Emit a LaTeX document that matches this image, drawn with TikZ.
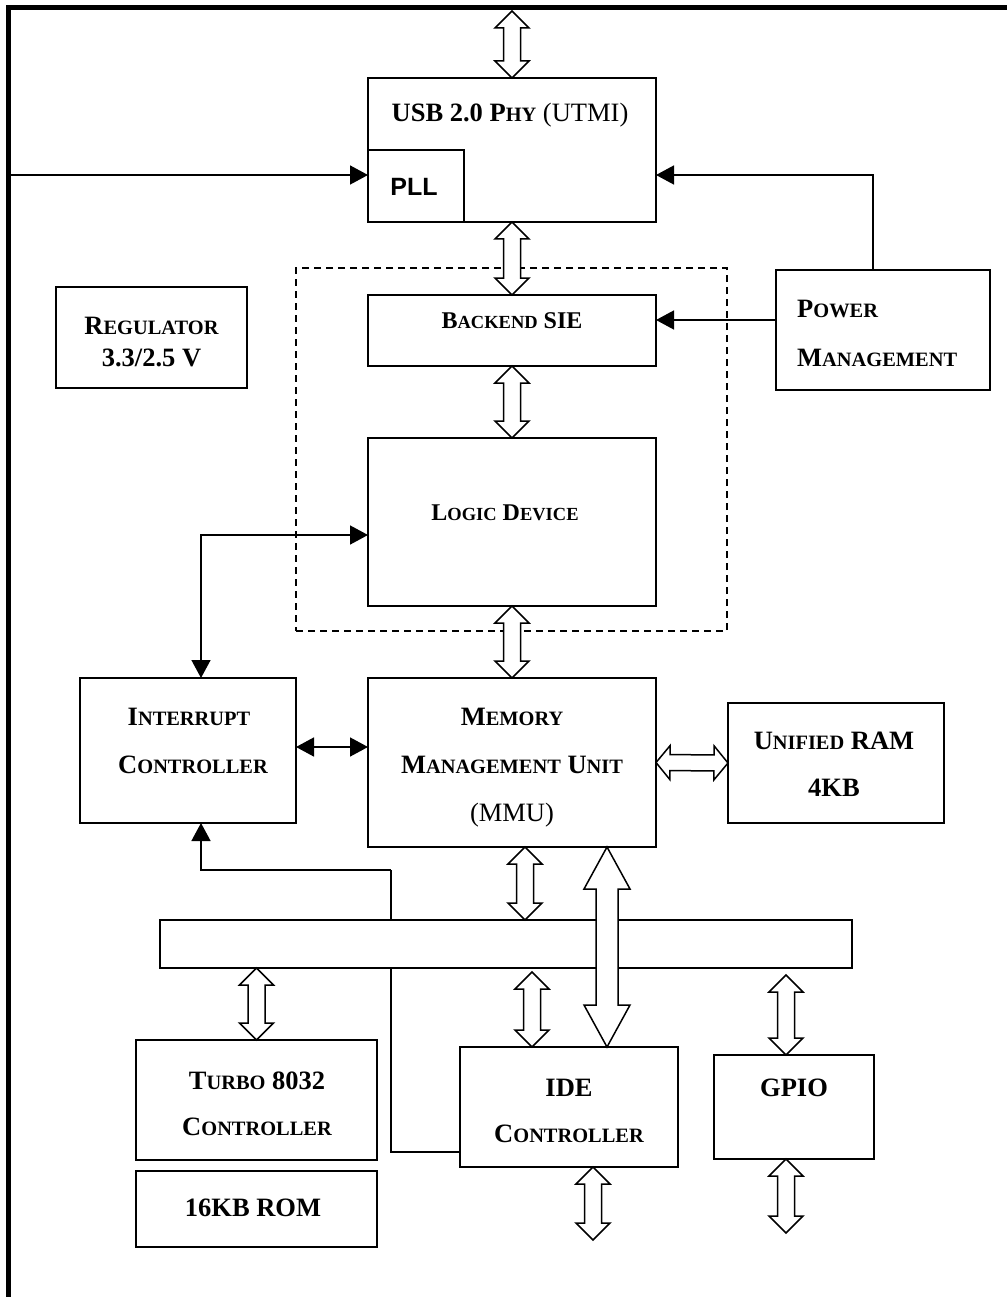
\documentclass[tikz,border=0pt]{standalone}
\usepackage{fontspec}
\setmainfont{Liberation Serif}
\newfontfamily\arialb{Liberation Sans}[Scale=1]
\usetikzlibrary{calc,arrows.meta}
\makeatletter
\newcommand\smc[1]{{\fontsize{\fpeval{0.77*\f@size}}{12}\selectfont #1}}
\makeatother
\newcommand\tsz{\fontsize{26.5}{32}\selectfont\bfseries}
\newcommand\ssz{\fontsize{24}{29}\selectfont\bfseries}
\tikzset{
  box/.style={draw, line width=1.8pt, fill=white, inner sep=0pt, outer sep=0pt},
  txt/.style={inner sep=0pt, font=\tsz},
  stxt/.style={inner sep=0pt, font=\ssz},
  conn/.style={line width=1.5pt},
  arr/.style={conn, -{Triangle[length=18pt,width=19pt]}},
  darr/.style={conn, {Triangle[length=18pt,width=19pt]}-{Triangle[length=18pt,width=19pt]}},
  ha/.style={draw, line width=1.5pt, fill=white, line join=miter},
  hollow/.style n args={3}{to path={
    -- ($(\tikztostart)!#3!(\tikztotarget)!#2!90:(\tikztotarget)$)
    -- ($(\tikztostart)!#3!(\tikztotarget)!#1!90:(\tikztotarget)$)
    -- ($(\tikztotarget)!#3!(\tikztostart)!#1!-90:(\tikztostart)$)
    -- ($(\tikztotarget)!#3!(\tikztostart)!#2!-90:(\tikztostart)$)
    -- (\tikztotarget)
    -- ($(\tikztotarget)!#3!(\tikztostart)!#2!90:(\tikztostart)$)
    -- ($(\tikztotarget)!#3!(\tikztostart)!#1!90:(\tikztostart)$)
    -- ($(\tikztostart)!#3!(\tikztotarget)!#1!-90:(\tikztotarget)$)
    -- ($(\tikztostart)!#3!(\tikztotarget)!#2!-90:(\tikztotarget)$)
    -- cycle}},
  small/.style={hollow={8.5pt}{17pt}{17pt}},
}
\begin{document}
\begin{tikzpicture}[x=1pt,y=-1pt]
\useasboundingbox (0,0) rectangle (1007,1297);
% outer frame
\draw[line width=5pt, line join=miter] (8,1297) -- (8,7.5) -- (1007,7.5);

% dashed group
\node[draw, dash pattern=on 7pt off 5pt, line width=1.4pt, minimum width=431pt, minimum height=363pt, inner sep=0pt] (grp) at (511.5,449.5) {};

% boxes
\node[box, minimum width=288pt, minimum height=144pt] (usb) at (512,150) {};
\node[box, minimum width=96pt, minimum height=72pt] (pll) at (416,186) {};
\node[box, minimum width=191pt, minimum height=101pt] (reg) at (151.5,337.5) {};
\node[box, minimum width=288pt, minimum height=71pt] (sie) at (512,330.5) {};
\node[box, minimum width=214pt, minimum height=120pt] (pm) at (883,330) {};
\node[box, minimum width=288pt, minimum height=168pt] (logic) at (512,522) {};
\node[box, minimum width=216pt, minimum height=145pt] (int) at (188,750.5) {};
\node[box, minimum width=288pt, minimum height=169pt] (mmu) at (512,762.5) {};
\node[box, minimum width=216pt, minimum height=120pt] (ram) at (836,763) {};
\node[box, minimum width=241pt, minimum height=120pt] (turbo) at (256.5,1100) {};
\node[box, minimum width=241pt, minimum height=76pt] (rom) at (256.5,1209) {};
\node[box, minimum width=218pt, minimum height=120pt] (ide) at (569,1107) {};
\node[box, minimum width=160pt, minimum height=104pt] (gpio) at (794,1107) {};

% texts
\node[txt, anchor=base] (usbT) at (510,122) {USB 2.0 P\smc{HY} {\mdseries(UTMI)}};
\node[inner sep=0pt, anchor=base, font=\arialb\fontsize{25}{30}\selectfont\bfseries] (pllT) at (414,196) {PLL};
\node[txt, anchor=base] (regT1) at (151.5,334) {R\smc{EGULATOR}};
\node[txt, anchor=base] (regT2) at (151.5,366) {3.3/2.5 V};
\node[stxt, anchor=base] (sieT) at (512,328) {B\smc{ACKEND} SIE};
\node[txt, anchor=base west] (pmT1) at (797,317) {P\smc{OWER}};
\node[txt, anchor=base west] (pmT2) at (797,366) {M\smc{ANAGEMENT}};
\node[stxt, anchor=base] (logicT) at (505,520) {L\smc{OGIC} D\smc{EVICE}};
\node[txt, anchor=base] (intT1) at (189,725) {I\smc{NTERRUPT}};
\node[txt, anchor=base] (intT2) at (193,773) {C\smc{ONTROLLER}};
\node[txt, anchor=base] (mmuT1) at (512,725) {M\smc{EMORY}};
\node[txt, anchor=base] (mmuT2) at (512,773) {M\smc{ANAGEMENT} U\smc{NIT}};
\node[txt, anchor=base, font=\fontsize{26.5}{32}\selectfont] (mmuT3) at (512,821) {(MMU)};
\node[txt, anchor=base] (ramT1) at (834,749) {U\smc{NIFIED} RAM};
\node[txt, anchor=base] (ramT2) at (834,796) {4KB};
\node[txt, anchor=base] (turboT1) at (257,1089) {T\smc{URBO} 8032};
\node[txt, anchor=base] (turboT2) at (257,1135) {C\smc{ONTROLLER}};
\node[txt, anchor=base] (romT) at (253,1216) {16KB ROM};
\node[txt, anchor=base] (ideT1) at (569,1096) {IDE};
\node[txt, anchor=base] (ideT2) at (569,1142) {C\smc{ONTROLLER}};
\node[txt, anchor=base] (gpioT) at (794,1096) {GPIO};

% helper coordinates
\coordinate (clkIn) at (10,175);
\coordinate (pllIn) at (pll.west |- clkIn);
\coordinate (pmUp) at (873,270);
\coordinate (usbIn) at (usb.east |- 0,175);
\coordinate (pmOut) at (pm.west |- 0,320);
\coordinate (sieIn) at (sie.east |- 0,320);
\coordinate (intTop) at (201,678);
\coordinate (logicIn) at (logic.west |- 0,535);
\coordinate (intR) at (int.east |- 0,747);
\coordinate (mmuL) at (mmu.west |- 0,747);
\coordinate (intBot) at (201,823);
\coordinate (ideL) at (ide.west |- 0,1152);
\coordinate (bend) at (391,870);

% thin connectors
\draw[arr] (clkIn) -- (pllIn);
\draw[arr] (pmUp) |- (usbIn);
\draw[arr] (pmOut) -- (sieIn);
\draw[darr] (intTop) |- (logicIn);
\draw[darr] (intR) -- (mmuL);
\draw[conn] (ideL) -| (bend);
\draw[arr] (bend) -| (intBot);

% bus
\node[box, minimum width=692pt, minimum height=48pt] (bus) at (506,944) {};

% hollow arrows
\coordinate (topExt) at (usb.north |- 0,11);
\draw[ha] (topExt) to[small] (usb.north);
\draw[ha] (usb.south) to[small] (sie.north);
\draw[ha] (sie.south) to[small] (logic.north);
\draw[ha] (logic.south) to[small] (mmu.north);
\draw[ha] (mmu.east) to[hollow={8pt}{17pt}{14pt}] (ram.west);
\coordinate (mmuB1) at (525,847);
\coordinate (busT1) at (525,920);
\draw[ha] (mmuB1) to[small] (busT1);
\coordinate (mmuB2) at (607,847);
\coordinate (ideT) at (607,1047);
\draw[ha] (mmuB2) to[hollow={11pt}{23pt}{42pt}] (ideT);
\coordinate (busB1) at (turbo.north |- bus.south);
\draw[ha] (busB1) to[small] (turbo.north);
\coordinate (busB2) at (532,972);
\coordinate (ideT2) at (532,1047);
\draw[ha] (busB2) to[small] (ideT2);
\coordinate (busB3) at (786,975);
\coordinate (gpioT2) at (786,1055);
\draw[ha] (busB3) to[small] (gpioT2);
\coordinate (ideB) at (593,1167);
\coordinate (ideExt) at (593,1240);
\draw[ha] (ideB) to[small] (ideExt);
\coordinate (gpioB) at (786,1159);
\coordinate (gpioExt) at (786,1233);
\draw[ha] (gpioB) to[small] (gpioExt);
\end{tikzpicture}
\end{document}
